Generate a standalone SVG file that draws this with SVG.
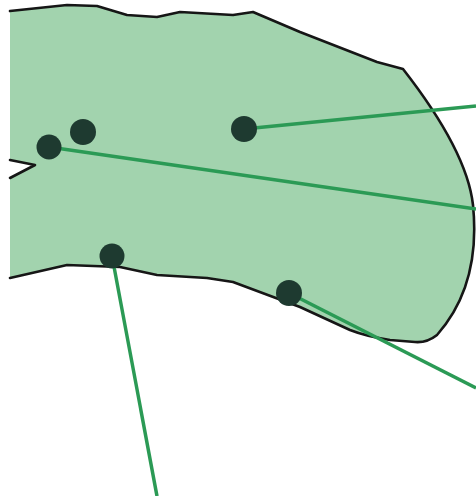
<svg xmlns="http://www.w3.org/2000/svg" width="476" height="496" viewBox="0 0 476 496">
<style>
.fill{fill:#a2d3ae;stroke:none}
.outline{fill:none;stroke:#161616;stroke-width:2.6;stroke-linejoin:round;stroke-linecap:round}
.conn{stroke:#2b9a55;stroke-width:3.5;fill:none;stroke-linecap:butt}
.dot{fill:#1e3a30}
</style>
<rect width="476" height="496" fill="#ffffff"/>
<g id="region">
<path class="fill" d="M10,11 L67,5 L97,6 L127,15 L157,17 L180,12 L233,15 L253,12 L300,32 L377,62 L403,69 C435,110 468,160 473,205 C478,255 468,300 437,335 Q427,343 415,342 L390,340 Q365,336 350,330 L300,307 L233,282 L207,278 L157,275 L120,267 L67,265 L10,278 L10,178 L35,165 L10,160 Z"/>
<path class="outline" d="M10,11 L67,5 L97,6 L127,15 L157,17 L180,12 L233,15 L253,12 L300,32 L377,62 L403,69 C435,110 468,160 473,205 C478,255 468,300 437,335 Q427,343 415,342 L390,340 Q365,336 350,330 L300,307 L233,282 L207,278 L157,275 L120,267 L67,265 L10,278"/>
<path class="outline" d="M10,160 L35,165 L10,178"/>
</g>
<g id="connectors">
<line class="conn" x1="244" y1="129" x2="476" y2="106"/>
<line class="conn" x1="49" y1="147" x2="476" y2="209"/>
<line class="conn" x1="112" y1="256" x2="157" y2="496"/>
<line class="conn" x1="289" y1="293" x2="476" y2="388"/>
</g>
<g id="dot1"><circle class="dot" cx="83" cy="132" r="13"/></g>
<g id="dot2"><circle class="dot" cx="49" cy="147" r="12.5"/></g>
<g id="dot3"><circle class="dot" cx="244" cy="129" r="13"/></g>
<g id="dot4"><circle class="dot" cx="112" cy="256" r="12.5"/></g>
<g id="dot5"><circle class="dot" cx="289" cy="293" r="13"/></g>
</svg>
